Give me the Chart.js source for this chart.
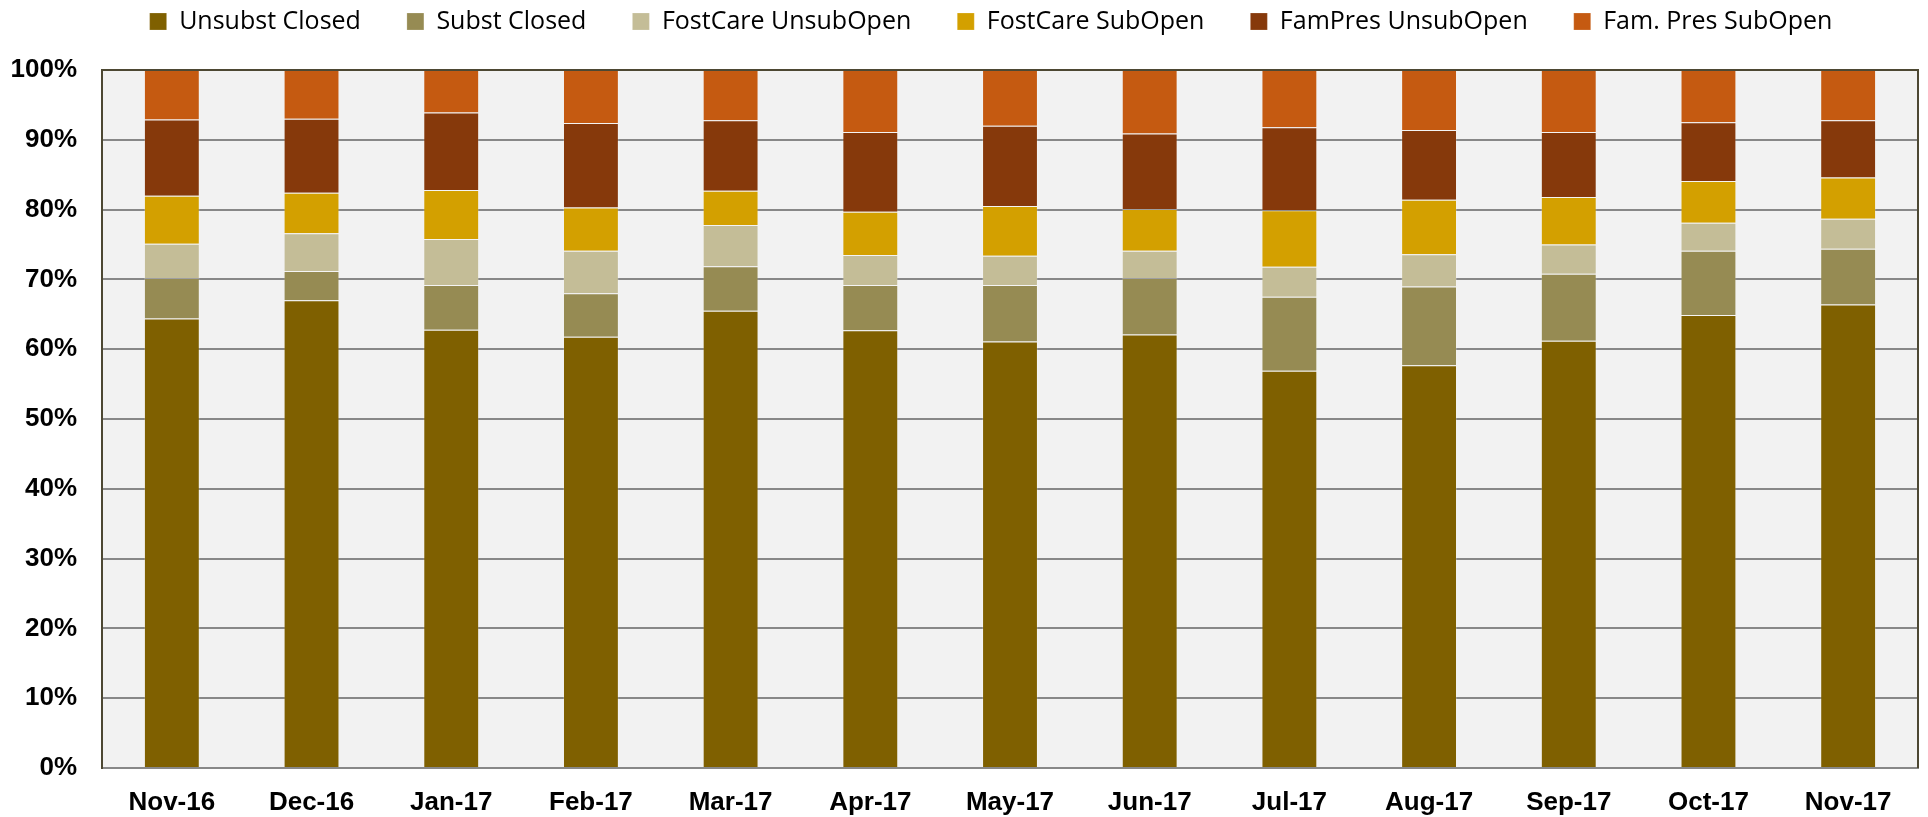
<!DOCTYPE html>
<html>
<head>
<meta charset="utf-8">
<title>Case outcomes by month</title>
<script src="https://cdn.jsdelivr.net/npm/chart.js@4.4.1/dist/chart.umd.min.js"></script>
<style>
  html, body { margin: 0; padding: 0; background: #fff; }
  #chart { display: block; }
</style>
</head>
<body>
<canvas id="chart" width="1928" height="817"></canvas>
<script>
// =======================================
// DATA (percent of cases, each month stacks to 100)
// =======================================
const months = ["Nov-16", "Dec-16", "Jan-17", "Feb-17", "Mar-17", "Apr-17", "May-17",
                "Jun-17", "Jul-17", "Aug-17", "Sep-17", "Oct-17", "Nov-17"];

const unsubstClosed    = [64.4, 67.0, 62.8, 61.8, 65.5, 62.7, 61.1, 62.1, 56.9, 57.7, 61.2, 64.9, 66.4];
const substClosed      = [5.8, 4.2, 6.4, 6.2, 6.4, 6.5, 8.1, 8.1, 10.6, 11.3, 9.6, 9.2, 8.0];
const fostCareUnsub    = [4.9, 5.4, 6.6, 6.1, 5.9, 4.3, 4.2, 3.9, 4.3, 4.6, 4.2, 4.0, 4.3];
const fostCareSub      = [6.9, 5.8, 7.0, 6.2, 4.9, 6.2, 7.1, 6.0, 8.1, 7.8, 6.8, 6.0, 5.9];
const famPresUnsub     = [10.9, 10.6, 11.1, 12.1, 10.1, 11.4, 11.5, 10.8, 11.9, 10.0, 9.3, 8.4, 8.2];
const famPresSub       = [7.1, 7.0, 6.1, 7.6, 7.2, 8.9, 8.0, 9.1, 8.2, 8.6, 8.9, 7.5, 7.2];

const yTicks = [0, 10, 20, 30, 40, 50, 60, 70, 80, 90, 100];

// =======================================
// STYLE
// =======================================
const seriesNames  = ["Unsubst Closed", "Subst Closed", "FostCare UnsubOpen",
                      "FostCare SubOpen", "FamPres UnsubOpen", "Fam. Pres SubOpen"];
const seriesColors = ["#7F6000", "#968B53", "#C4BD97", "#D3A000", "#86390B", "#C55A11"];
const seriesValues = [unsubstClosed, substClosed, fostCareUnsub, fostCareSub, famPresUnsub, famPresSub];

const LEGEND_GAP = 46;      // space between legend entries
const LEGEND_ROW_Y = 21;    // vertical centre of the legend row
const LEGEND_SHIFT_X = 32;  // legend is centred a bit right of the canvas middle
const PLOT_TOP = 70;

// Plot area fill + dark frame on top / right (Excel look)
const plotFrame = {
    id: "plotFrame",
    beforeDraw(chart) {
        const { ctx, chartArea: a } = chart;
        ctx.save();
        ctx.fillStyle = "#F2F2F2";
        ctx.fillRect(a.left, a.top, a.right - a.left, a.bottom - a.top);
        ctx.restore();
    },
    afterDatasetsDraw(chart) {
        const { ctx, chartArea: a } = chart;
        ctx.save();
        ctx.strokeStyle = "#4D4833";
        ctx.lineWidth = 2;
        ctx.beginPath();
        ctx.moveTo(a.left, a.top);
        ctx.lineTo(a.right, a.top);
        ctx.lineTo(a.right, a.bottom);
        ctx.stroke();
        ctx.restore();
    }
};

// Wide gaps between legend entries without a tall legend box
const legendLayout = {
    id: "legendLayout",
    afterInit(chart) {
        const legend = chart.legend;
        const fit = legend.fit;
        legend.fit = function () {
            fit.call(this);
            this.height = PLOT_TOP;
        };
    },
    afterLayout(chart) {
        const legend = chart.legend;
        legend.top = LEGEND_ROW_Y - 12 - LEGEND_GAP;
        legend.left += LEGEND_SHIFT_X;
        legend.right += LEGEND_SHIFT_X;
    }
};

const datasets = seriesNames.map((name, i) => ({
    label: name,
    data: seriesValues[i],
    backgroundColor: seriesColors[i],
    borderColor: "rgba(255,255,255,0.2)",
    borderWidth: 1,
    barPercentage: 0.4,
    categoryPercentage: 1.0
}));

new Chart(document.getElementById("chart"), {
    type: "bar",
    data: { labels: months, datasets },
    plugins: [plotFrame, legendLayout],
    options: {
        responsive: false,
        animation: false,
        devicePixelRatio: 1,
        layout: { padding: { left: 0, right: 10, top: 0, bottom: 0 } },
        plugins: {
            tooltip: { enabled: false },
            legend: {
                position: "top",
                labels: {
                    font: { family: "'Open Sans', sans-serif", size: 25 },
                    color: "#000",
                    boxWidth: 17,
                    boxHeight: 17,
                    padding: LEGEND_GAP
                }
            }
        },
        scales: {
            x: {
                stacked: true,
                afterFit(scale) { scale.height = 49; },
                grid: { display: false, drawTicks: false },
                border: { display: true, color: "#888888", width: 2 },
                ticks: {
                    color: "#000",
                    padding: 19,
                    maxRotation: 0,
                    font: { family: "'Liberation Sans', Arial, sans-serif", size: 26, weight: "bold" }
                }
            },
            y: {
                stacked: true,
                min: 0,
                max: 100,
                afterFit(scale) { scale.width = 102; },
                afterBuildTicks(scale) { scale.ticks = yTicks.map(v => ({ value: v })); },
                grid: { color: "#888888", lineWidth: 2, drawTicks: false },
                border: { display: true, color: "#4D4833", width: 2 },
                ticks: {
                    color: "#000",
                    padding: 25,
                    font: { family: "'Liberation Sans', Arial, sans-serif", size: 26, weight: "bold" },
                    callback: v => v + "%"
                }
            }
        }
    }
});
</script>
</body>
</html>
